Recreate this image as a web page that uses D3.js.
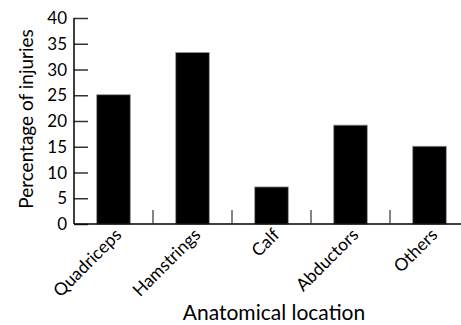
<!DOCTYPE html>
<html>
<head>
<meta charset="utf-8">
<script src="https://cdn.jsdelivr.net/npm/d3@7"></script>
<style>
  body { margin: 0; background: #fff; }
  text { font-family: "Lato", sans-serif; fill: #000; }
</style>
</head>
<body>
<script>
// Chart data
var locations = ["Quadriceps", "Hamstrings", "Calf", "Abductors", "Others"];
var percentages = [25.1, 33.3, 7.2, 19.2, 15.1];
var yTicks = [0, 5, 10, 15, 20, 25, 30, 35, 40];

var width = 461, height = 325;
var plotLeft = 74, plotRight = 469, plotTop = 18, plotBottom = 224;

var svg = d3.select("body").append("svg")
    .attr("width", width)
    .attr("height", height);

// Scales
var xScale = d3.scaleBand().domain(locations).range([plotLeft, plotRight])
    .paddingInner(0.575).paddingOuter(0.2875);
var yScale = d3.scaleLinear().domain([0, 40]).range([plotBottom, plotTop]);

// Bars
svg.selectAll("rect.bar")
    .data(locations)
    .enter().append("rect")
    .attr("class", "bar")
    .attr("x", function (d) { return xScale(d); })
    .attr("y", function (d, i) { return yScale(percentages[i]); })
    .attr("width", xScale.bandwidth())
    .attr("height", function (d, i) { return plotBottom - yScale(percentages[i]); })
    .style("fill", "#000")
    .style("stroke", "#999")
    .style("stroke-width", 0.8);

// Y axis, ticks pointing inward
var yAxis = d3.axisRight(yScale).tickValues(yTicks).tickSize(14).tickFormat("");
var gy = svg.append("g").attr("transform", "translate(" + plotLeft + ",0)").call(yAxis);
gy.select(".domain").remove();
gy.selectAll(".tick line").attr("stroke", "#333").attr("stroke-width", 1.5);

svg.append("line")
    .attr("x1", plotLeft).attr("x2", plotLeft)
    .attr("y1", yScale(40)).attr("y2", plotBottom)
    .attr("stroke", "#000").attr("stroke-width", 1.5);

svg.selectAll("text.ylab")
    .data(yTicks)
    .enter().append("text")
    .attr("class", "ylab")
    .attr("x", 67)
    .attr("y", function (d) { return yScale(d); })
    .attr("dy", "0.36em")
    .attr("text-anchor", "end")
    .style("font-size", "17px")
    .text(function (d) { return d; });

// X axis line
svg.append("line")
    .attr("x1", plotLeft).attr("x2", width)
    .attr("y1", plotBottom).attr("y2", plotBottom)
    .attr("stroke", "#000").attr("stroke-width", 1.5);

// Separator ticks between categories
svg.selectAll("line.sep")
    .data(locations.slice(1))
    .enter().append("line")
    .attr("class", "sep")
    .attr("x1", function (d) { return xScale(d) - xScale.step() * xScale.paddingOuter(); })
    .attr("x2", function (d) { return xScale(d) - xScale.step() * xScale.paddingOuter(); })
    .attr("y1", plotBottom).attr("y2", plotBottom - 14)
    .attr("stroke", "#333").attr("stroke-width", 1.2);

// Category labels
svg.selectAll("text.xlab")
    .data(locations)
    .enter().append("text")
    .attr("class", "xlab")
    .attr("text-anchor", "end")
    .attr("transform", function (d) {
        return "translate(" + (xScale(d) + xScale.bandwidth() / 2 + 9) + "," + 236 + ") rotate(-45)";
    })
    .style("font-size", "17.5px")
    .text(function (d) { return d; });

// Axis titles
svg.append("text")
    .attr("x", 274).attr("y", 320)
    .attr("text-anchor", "middle")
    .style("font-size", "21px")
    .text("Anatomical location");

svg.append("text")
    .attr("transform", "translate(33," + 119 + ") rotate(-90)")
    .attr("text-anchor", "middle")
    .style("font-size", "19px")
    .text("Percentage of injuries");
</script>
</body>
</html>
